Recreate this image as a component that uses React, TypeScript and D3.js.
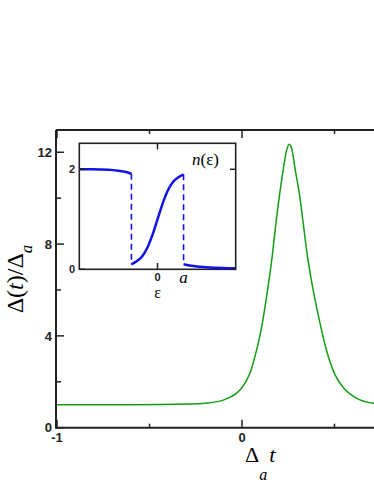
import React from "react";
import * as d3 from "d3";

// main curve
const tValues = [-1, -0.6, -0.281, -0.2, -0.101, -0.056, -0.011, 0.02, 0.043, 0.079, 0.103, 0.13, 0.164, 0.184, 0.203, 0.224, 0.24, 0.256, 0.272, 0.2865, 0.311, 0.33, 0.349, 0.378, 0.414, 0.454, 0.503, 0.557, 0.62, 0.71, 0.8, 1];
const gapValues = [1.0, 1.0, 1.03, 1.06, 1.2, 1.36, 1.64, 2.0, 2.37, 3.39, 4.25, 5.56, 7.52, 8.96, 10.14, 11.3, 12.05, 12.35, 12.05, 11.3, 10.14, 8.96, 7.74, 6.29, 4.84, 3.45, 2.3, 1.66, 1.28, 1.07, 1.02, 1.0];

// inset n(eps), three pieces
const epsLeft = [-3, -2.5, -1.88, -1.5, -1.24, -1];
const nLeft = [2.0, 2.0, 1.99, 1.97, 1.95, 1.91];
const epsMid = [-1, -0.8, -0.6, -0.4, -0.2, 0, 0.2, 0.4, 0.6, 0.8, 1];
const nMid = [0.1, 0.16, 0.25, 0.42, 0.68, 1.0, 1.32, 1.58, 1.75, 1.84, 1.9];
const epsRight = [1, 1.3, 1.6, 2, 2.5, 3];
const nRight = [0.1, 0.07, 0.05, 0.035, 0.025, 0.02];

const yMajor = [0, 4, 8, 12];
const yMinor = [2, 6, 10];
const xMajor = [-1, 0, 1];
const xMinor = [-0.5, 0.5];
const insetYTicks = [0, 2];
const insetXTicks = [0];

const GREEN = "#139e13";
const BLUE = "#1212e6";
const INK = "#222";

export default function App() {
  const W = 374;
  const H = 484;
  const x = d3.scaleLinear().domain([-1, 1]).range([57, 427]);
  const y = d3.scaleLinear().domain([0, 13]).range([427.7, 129.3]);
  const left = 56;
  const top = 130;
  const bottom = 427.7;

  const ix = d3.scaleLinear().domain([-3, 3]).range([79.3, 235.7]);
  const iy = d3.scaleLinear().domain([0, 2.52]).range([269.3, 143.3]);

  const mainLine = d3
    .line<number>()
    .x((d, i) => x(tValues[i]))
    .y((d) => y(d))
    .curve(d3.curveMonotoneX);

  const insetLine = (xs: number[]) =>
    d3
      .line<number>()
      .x((d, i) => ix(xs[i]))
      .y((d) => iy(d))
      .curve(d3.curveMonotoneX);

  const tickFont = "'Liberation Sans', Arial, sans-serif";
  const serif = "'Liberation Serif', 'Times New Roman', serif";

  return (
    <svg
      width={W}
      height={H}
      style={{ position: "absolute", left: 0, top: 0, background: "#fff" }}
    >
      {/* main curve */}
      <path d={mainLine(gapValues) || ""} fill="none" stroke={GREEN} strokeWidth={1.5} />

      {/* main axes */}
      <line x1={left} x2={W + 10} y1={top} y2={top} stroke={INK} strokeWidth={2} />
      <line x1={left} x2={W + 10} y1={bottom} y2={bottom} stroke={INK} strokeWidth={2} />
      <line x1={left} x2={left} y1={top} y2={bottom + 1} stroke={INK} strokeWidth={2} />

      {yMajor.map((v) => (
        <g key={"ym" + v}>
          <line x1={left} x2={left + 8} y1={y(v)} y2={y(v)} stroke={INK} strokeWidth={1.5} />
          <text
            x={52}
            y={y(v)}
            dy="0.36em"
            textAnchor="end"
            fontFamily={tickFont}
            fontWeight="bold"
            fontSize={13}
            fill={INK}
          >
            {v}
          </text>
        </g>
      ))}
      {yMinor.map((v) => (
        <line key={"yn" + v} x1={left} x2={left + 5} y1={y(v)} y2={y(v)} stroke={INK} strokeWidth={1.5} />
      ))}
      {xMajor.map((v) => (
        <g key={"xm" + v}>
          <line x1={x(v)} x2={x(v)} y1={bottom} y2={bottom - 8} stroke={INK} strokeWidth={1.5} />
          <line x1={x(v)} x2={x(v)} y1={top} y2={top + 8} stroke={INK} strokeWidth={1.5} />
          {x(v) < W - 10 && (
            <text
              x={x(v)}
              y={442}
              textAnchor="middle"
              fontFamily={tickFont}
              fontWeight="bold"
              fontSize={13}
              fill={INK}
            >
              {v}
            </text>
          )}
        </g>
      ))}
      {xMinor.map((v) => (
        <g key={"xn" + v}>
          <line x1={x(v)} x2={x(v)} y1={bottom} y2={bottom - 4} stroke={INK} strokeWidth={1.5} />
          <line x1={x(v)} x2={x(v)} y1={top} y2={top + 4} stroke={INK} strokeWidth={1.5} />
        </g>
      ))}

      {/* axis titles */}
      <text
        transform="translate(23,279) rotate(-90)"
        textAnchor="middle"
        fontFamily={serif}
        fontSize={24}
        fill="#000"
      >
        Δ(<tspan fontStyle="italic">t</tspan>)/Δ
        <tspan fontStyle="italic" fontSize={17} dy={9}>a</tspan>
      </text>
      <text x={245} y={461.7} fontFamily={serif} fontSize={22} fill="#000">
        Δ<tspan fontStyle="italic" fontSize={16} dy={18}>a</tspan>
        <tspan fontStyle="italic" dy={-18} dx={2}>t</tspan>
      </text>

      {/* inset */}
      <rect x={79.3} y={143.3} width={156.4} height={126} fill="#fff" stroke={INK} strokeWidth={1.6} />
      <path d={insetLine(epsLeft)(nLeft) || ""} fill="none" stroke={BLUE} strokeWidth={2.5} />
      <path d={insetLine(epsMid)(nMid) || ""} fill="none" stroke={BLUE} strokeWidth={2.5} />
      <path d={insetLine(epsRight)(nRight) || ""} fill="none" stroke={BLUE} strokeWidth={2.5} />
      <line x1={ix(-1)} x2={ix(-1)} y1={iy(nLeft[nLeft.length - 1])} y2={iy(nMid[0])} stroke={BLUE} strokeWidth={1.6} strokeDasharray="6,4" />
      <line x1={ix(1)} x2={ix(1)} y1={iy(nMid[nMid.length - 1])} y2={iy(nRight[0])} stroke={BLUE} strokeWidth={1.6} strokeDasharray="6,4" />

      {insetYTicks.map((v) => (
        <g key={"iy" + v}>
          <line x1={79.3} x2={85} y1={iy(v)} y2={iy(v)} stroke={INK} strokeWidth={1.5} />
          <line x1={235.7} x2={230} y1={iy(v)} y2={iy(v)} stroke={INK} strokeWidth={1.5} />
          <text
            x={75}
            y={iy(v)}
            dy="0.36em"
            textAnchor="end"
            fontFamily={tickFont}
            fontWeight="bold"
            fontSize={11}
            fill={INK}
          >
            {v}
          </text>
        </g>
      ))}
      {insetXTicks.map((v) => (
        <g key={"ix" + v}>
          <line x1={ix(v)} x2={ix(v)} y1={269.3} y2={263} stroke={INK} strokeWidth={1.5} />
          <line x1={ix(v)} x2={ix(v)} y1={143.3} y2={149.5} stroke={INK} strokeWidth={1.5} />
          <text
            x={ix(v)}
            y={281}
            textAnchor="middle"
            fontFamily={tickFont}
            fontWeight="bold"
            fontSize={11}
            fill={INK}
          >
            {v}
          </text>
        </g>
      ))}
      <text x={ix(1)} y={283} textAnchor="middle" fontFamily={serif} fontStyle="italic" fontSize={17} fill="#000">
        a
      </text>
      <text x={ix(0)} y={298} textAnchor="middle" fontFamily={serif} fontSize={16} fill="#000">
        ε
      </text>
      <text x={192} y={165} fontFamily={serif} fontSize={17} fill="#000">
        <tspan fontStyle="italic">n</tspan>(ε)
      </text>
    </svg>
  );
}
